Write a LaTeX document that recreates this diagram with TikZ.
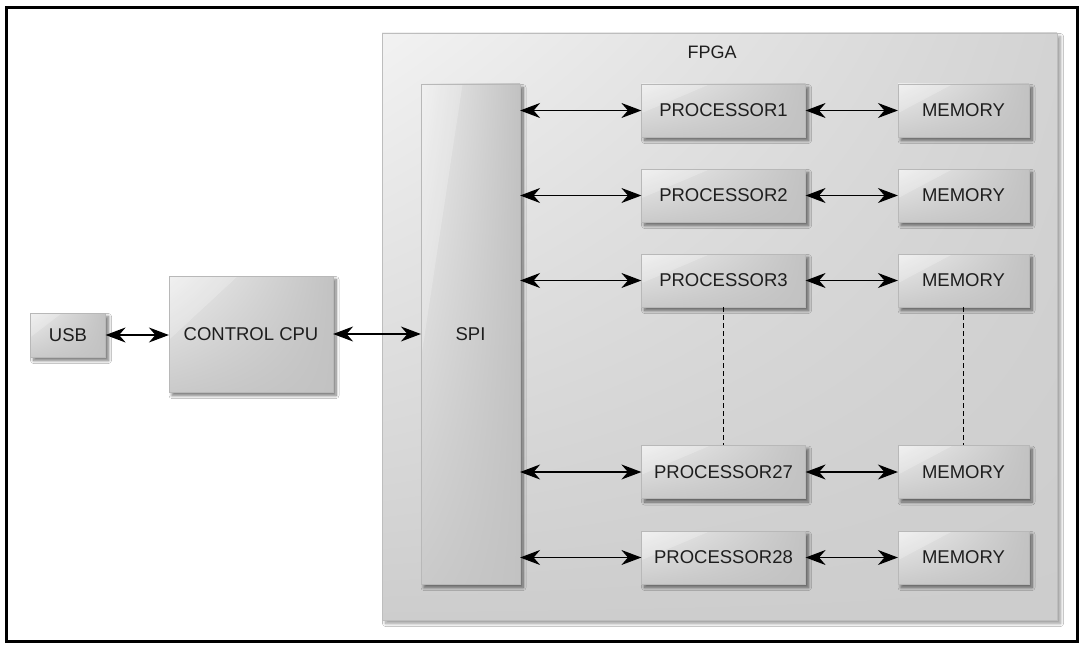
\documentclass[tikz,border=0pt]{standalone}
\usepackage{fontspec}
\setmainfont{Liberation Sans}
\usetikzlibrary{arrows.meta,shadows.blur,shadings,calc}
\definecolor{boxlight}{HTML}{EDEDED}
\definecolor{boxmid}{HTML}{CACACA}
\definecolor{boxdark}{HTML}{C2C2C2}
\definecolor{fpgalight}{HTML}{F2F2F2}
\definecolor{fpgamid}{HTML}{D3D3D3}
\definecolor{fpgadark}{HTML}{CDCDCD}
\definecolor{txt}{HTML}{1E1E1E}
\tikzset{
  gloss/.style={path picture={
    \fill[white, opacity=0.22]
      (path picture bounding box.north west) --
      ($(path picture bounding box.north west)!0.42!(path picture bounding box.north east)$) --
      ($(path picture bounding box.north west)!0.55!(path picture bounding box.south west)$) -- cycle;}},
  blockbox/.style={shade, upper left=boxlight, upper right=boxdark, lower left=boxmid, lower right=boxdark,
    draw=boxdark!95!black, line width=0.2pt, inner sep=0pt, gloss,
    blur shadow={shadow xshift=3pt, shadow yshift=-3.5pt, shadow blur steps=8, shadow blur radius=3pt, shadow opacity=55},
    font=\fontsize{18.5}{22}\selectfont, text=txt},
  procbox/.style={blockbox, minimum width=164pt, minimum height=53pt},
  membox/.style={blockbox, minimum width=131pt, minimum height=53pt},
  biarrow/.style={{Stealth[length=20pt,width=15pt,inset=6.5pt]}-{Stealth[length=20pt,width=15pt,inset=6.5pt]}, line width=1.3pt, black},
  dashline/.style={dashed, dash pattern=on 5pt off 3pt, line width=0.9pt, black}
}
\begin{document}
\begin{tikzpicture}[x=1pt,y=-1pt]
\useasboundingbox (0,0) rectangle (1083,650);
\draw[line width=3pt, black, fill=white] (6.5,7.5) rectangle (1077,641.5);
% FPGA container
\node[shade, upper left=fpgalight, upper right=fpgamid, lower left=fpgadark, lower right=fpgadark,
  draw=fpgadark!92!black, line width=0.4pt,
  blur shadow={shadow xshift=3.5pt, shadow yshift=-3.5pt, shadow blur steps=8, shadow blur radius=3pt, shadow opacity=40},
  minimum width=675pt, minimum height=587pt, inner sep=0pt] (fpga) at (719.5,326.5) {};
\node[font=\fontsize{18}{22}\selectfont, text=txt] (fpgalabel) at (712,52) {FPGA};
% left side
\node[blockbox, minimum width=75pt, minimum height=44pt] (usb) at (68,335) {USB};
\node[blockbox, minimum width=164pt, minimum height=116pt] (cpu) at (251,334) {CONTROL CPU};
\node[blockbox, minimum width=99pt, minimum height=500pt] (spi) at (470.5,334) {SPI};
% processors and memories
\foreach \n/\yy in {1/110.5, 2/195.5, 3/280.5, 27/472, 28/557.5} {
  \node[procbox] (p\n) at (723.5,\yy) {PROCESSOR\n};
  \node[membox] (m\n) at (963.5,\yy) {MEMORY};
  \draw[biarrow] (spi.east |- p\n.west) -- (p\n.west);
  \draw[biarrow] (p\n.east) -- (m\n.west);
}
\draw[biarrow] (usb.east) -- (cpu.west |- usb.east);
\draw[biarrow] (cpu.east) -- (spi.west |- cpu.east);
\draw[dashline] (p3.south) -- (p27.north);
\draw[dashline] (m3.south) -- (m27.north);
\end{tikzpicture}
\end{document}
